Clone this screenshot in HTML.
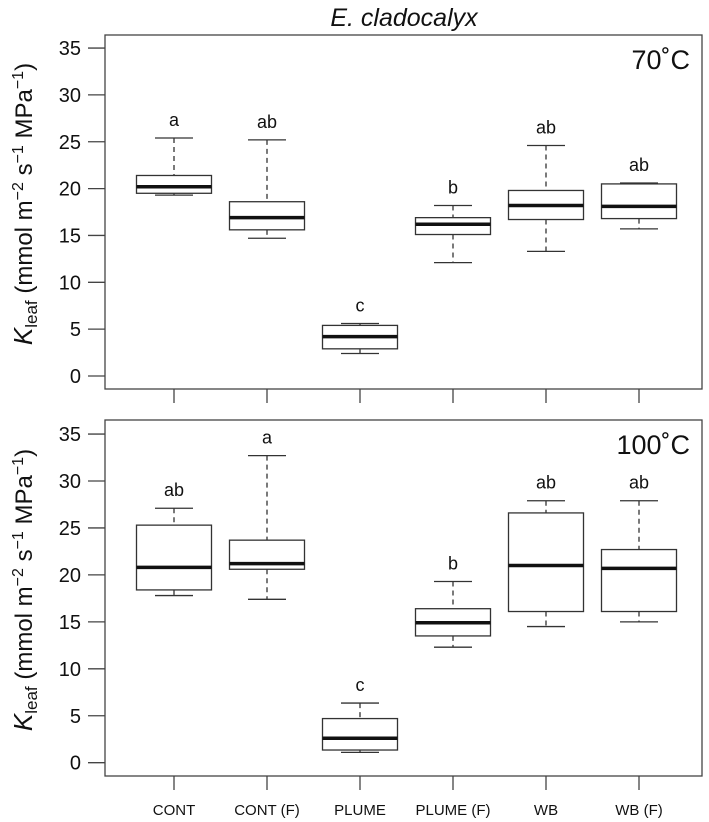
<!DOCTYPE html>
<html><head><meta charset="utf-8"><style>
body{margin:0;background:#fff}
svg{display:block;font-family:"Liberation Sans",Arial,sans-serif}
</style></head><body>
<svg id="chart" width="709" height="822" viewBox="0 0 709 822" xmlns="http://www.w3.org/2000/svg">
<text x="404" y="26" font-size="25" font-style="italic" text-anchor="middle" fill="#111">E. cladocalyx</text>
<g id="plots"></g>
</svg>
<script>
const categories=["CONT","CONT (F)","PLUME","PLUME (F)","WB","WB (F)"];
const yTicks=[0,5,10,15,20,25,30,35];
const top70Low=[19.3,14.7,2.4,12.1,13.3,15.7];
const top70Q1=[19.5,15.6,2.9,15.1,16.7,16.8];
const top70Med=[20.2,16.9,4.2,16.2,18.2,18.1];
const top70Q3=[21.4,18.6,5.4,16.9,19.8,20.5];
const top70High=[25.4,25.2,5.6,18.2,24.6,20.6];
const top70Letters=["a","ab","c","b","ab","ab"];
const bot100Low=[17.8,17.4,1.1,12.3,14.5,15.0];
const bot100Q1=[18.4,20.6,1.35,13.5,16.1,16.1];
const bot100Med=[20.8,21.2,2.6,14.9,21.0,20.7];
const bot100Q3=[25.3,23.7,4.7,16.4,26.6,22.7];
const bot100High=[27.1,32.7,6.35,19.3,27.9,27.9];
const bot100Letters=["ab","a","c","b","ab","ab"];

const NS="http://www.w3.org/2000/svg";
const g=document.getElementById('plots');
function mk(tag,attrs,parent,text){const e=document.createElementNS(NS,tag);for(const k in attrs)e.setAttribute(k,attrs[k]);if(text!==undefined)e.textContent=text;(parent||g).appendChild(e);return e;}
const xPos=i=>174+i*93;
function panel(cfg){
  const y=v=>cfg.y0-v*cfg.k;
  const pg=mk('g',{});
  
  
  const frame=mk('rect',{x:105,y:cfg.top,width:597,height:cfg.bot-cfg.top,fill:'none',stroke:'#444','stroke-width':1.3},pg);
  
  
  yTicks.forEach(t=>{
    const tl=mk('line',{x1:88,x2:105,y1:y(t),y2:y(t),stroke:'#444','stroke-width':1.3},pg);
    
    
    const tx=mk('text',{x:81,y:y(t)+7,'font-size':20,'text-anchor':'end',fill:'#111'},pg,String(t));
    
    
  });
  categories.forEach((c,i)=>{
    const x=xPos(i);
    const xt=mk('line',{x1:x,x2:x,y1:cfg.bot,y2:cfg.bot+14,stroke:'#444','stroke-width':1.3},pg);
    
    
    const bg=mk('g',{},pg);
    
    
    const lo=cfg.low[i],q1=cfg.q1[i],md=cfg.med[i],q3=cfg.q3[i],hi=cfg.high[i];
    mk('line',{x1:x,x2:x,y1:y(hi),y2:y(q3),stroke:'#333','stroke-width':1.3,'stroke-dasharray':'5,4'},bg);
    mk('line',{x1:x,x2:x,y1:y(q1),y2:y(lo),stroke:'#333','stroke-width':1.3,'stroke-dasharray':'5,4'},bg);
    mk('line',{x1:x-19,x2:x+19,y1:y(hi),y2:y(hi),stroke:'#333','stroke-width':1.3},bg);
    mk('line',{x1:x-19,x2:x+19,y1:y(lo),y2:y(lo),stroke:'#333','stroke-width':1.3},bg);
    mk('rect',{x:x-37.5,y:y(q3),width:75,height:y(q1)-y(q3),fill:'#fff',stroke:'#333','stroke-width':1.3},bg);
    mk('line',{x1:x-37.5,x2:x+37.5,y1:y(md),y2:y(md),stroke:'#111','stroke-width':3.5},bg);
    const lt=mk('text',{x:x,y:y(hi)-12,'font-size':18,'text-anchor':'middle',fill:'#111'},pg,cfg.letters[i]);
    
    
    if(cfg.xlabels){
      const xl=mk('text',{x:x,y:cfg.bot+39,'font-size':15,'text-anchor':'middle',fill:'#111'},pg,c);
      
      
    }
  });
  const tl=mk('text',{x:690,y:cfg.top+34,'font-size':27,'text-anchor':'end',fill:'#111'},pg,cfg.temp);
  
  
  const cy=(cfg.top+cfg.bot)/2-8;
  const yl=mk('text',{transform:`translate(32,${cy}) rotate(-90)`,'font-size':24,'text-anchor':'middle',fill:'#111'},pg);
  
  
  yl.innerHTML='<tspan font-style="italic" font-size="26">K</tspan><tspan font-size="17" dy="5">leaf</tspan><tspan dy="-5"> (mmol m</tspan><tspan font-size="16" dy="-9">−2</tspan><tspan dy="9"> s</tspan><tspan font-size="16" dy="-9">−1</tspan><tspan dy="9"> MPa</tspan><tspan font-size="16" dy="-9">−1</tspan><tspan dy="9">)</tspan>';
}
panel({name:'panel-70c',top:35,bot:389,y0:376,k:9.37,low:top70Low,q1:top70Q1,med:top70Med,q3:top70Q3,high:top70High,letters:top70Letters,temp:'70˚C',xlabels:false});
panel({name:'panel-100c',top:420,bot:776,y0:762.7,k:9.39,low:bot100Low,q1:bot100Q1,med:bot100Med,q3:bot100Q3,high:bot100High,letters:bot100Letters,temp:'100˚C',xlabels:true});
</script>
</body></html>
